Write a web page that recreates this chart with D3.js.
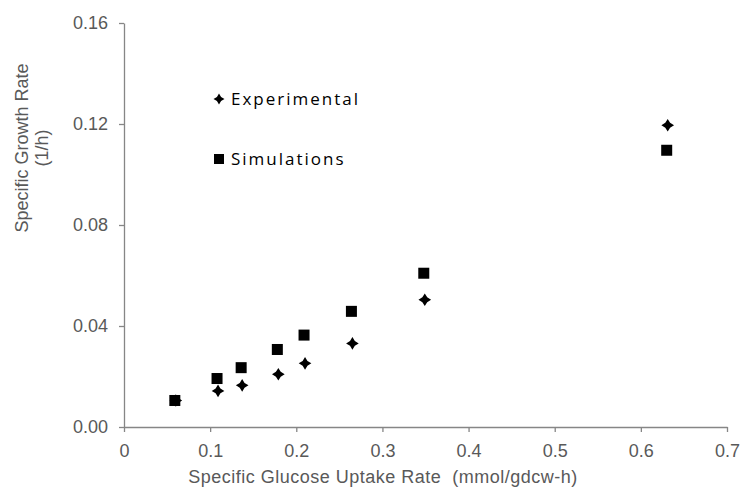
<!DOCTYPE html>
<html>
<head>
<meta charset="utf-8">
<script src="https://cdn.jsdelivr.net/npm/d3@7"></script>
<style>
  body { margin: 0; background: #fff; }
  text { font-family: "Liberation Sans", Arial, sans-serif; }
</style>
</head>
<body>
<div id="chart"></div>
<script>
// 資料
const uptake = [0.059, 0.108, 0.136, 0.178, 0.209, 0.264, 0.348, 0.630];
const experimental = [0.0105, 0.0143, 0.0165, 0.0209, 0.0252, 0.0331, 0.0504, 0.1195];
const simulations = [0.0105, 0.0192, 0.0235, 0.0307, 0.0364, 0.0458, 0.0609, 0.1096];
const xTicks = [0, 0.1, 0.2, 0.3, 0.4, 0.5, 0.6, 0.7];
const yTicks = [0, 0.04, 0.08, 0.12, 0.16];
const legendItems = ['Experimental', 'Simulations'];

const svg_width = 742, svg_height = 490;
const svg = d3.select('#chart').append('svg')
    .attr('width', svg_width).attr('height', svg_height);

const xScale = d3.scaleLinear().domain([0, 0.7]).range([124, 727]);
const yScale = d3.scaleLinear().domain([0, 0.16]).range([427, 23]);

// 四角星 (實驗值)
const star4 = {
    draw(ctx, size) {
        const r = Math.sqrt(size) / 2, k = r * 0.38;
        ctx.moveTo(0, -r);
        ctx.lineTo(k, -k); ctx.lineTo(r, 0); ctx.lineTo(k, k);
        ctx.lineTo(0, r); ctx.lineTo(-k, k); ctx.lineTo(-r, 0); ctx.lineTo(-k, -k);
        ctx.closePath();
    }
};

// X axis
const xAxis = d3.axisBottom(xScale).tickValues(xTicks)
    .tickFormat(d => d === 0 ? '0' : d3.format('.1f')(d))
    .tickSizeInner(5).tickSizeOuter(0).tickPadding(12);
const gx = svg.append('g').attr('transform', 'translate(0,427)').call(xAxis);

// Y axis
const yAxis = d3.axisLeft(yScale).tickValues(yTicks)
    .tickFormat(d3.format('.2f'))
    .tickSizeInner(5).tickSizeOuter(0).tickPadding(11);
const gy = svg.append('g').attr('transform', 'translate(124,0)').call(yAxis);

[gx, gy].forEach(g => {
    g.select('.domain').attr('stroke', '#868686').attr('stroke-width', 1.3);
    g.selectAll('.tick line').attr('stroke', '#868686').attr('stroke-width', 1.3);
    g.selectAll('.tick text').attr('fill', '#595959')
        .style('font-size', '18px').style('font-family', '"Liberation Sans", Arial, sans-serif');
});

// Axis titles
svg.append('text')
    .attr('x', 383).attr('y', 483)
    .attr('text-anchor', 'middle')
    .attr('fill', '#595959')
    .style('font-size', '18px')
    .style('white-space', 'pre')
    .style('letter-spacing', '0.5px')
    .text('Specific Glucose Uptake Rate  (mmol/gdcw-h)');

const yTitle = svg.append('text')
    .attr('transform', 'translate(28,148) rotate(-90)')
    .attr('text-anchor', 'middle')
    .attr('fill', '#595959')
    .style('font-size', '18px');
yTitle.append('tspan').attr('x', 0).attr('y', 0).text('Specific Growth Rate');
yTitle.append('tspan').attr('x', 0).attr('y', 20).text('(1/h)');

// Points
const simData = uptake.map((x, i) => ({ x, y: simulations[i] }));
const expData = uptake.map((x, i) => ({ x, y: experimental[i] }));

svg.append('g').selectAll('path')
    .data(expData).enter()
    .append('path')
    .attr('transform', d => `translate(${xScale(d.x) + 1},${yScale(d.y)})`)
    .attr('d', d3.symbol().type(star4).size(160))
    .attr('fill', '#000');

svg.append('g').selectAll('rect')
    .data(simData).enter()
    .append('rect')
    .attr('x', d => xScale(d.x) - 5.5)
    .attr('y', d => yScale(d.y) - 5.5)
    .attr('width', 11).attr('height', 11)
    .attr('fill', '#000');

// Legend
const legend = svg.append('g').selectAll('g')
    .data(legendItems).enter()
    .append('g')
    .attr('transform', (d, i) => `translate(219,${99 + i * 60})`);
legend.append('path')
    .attr('d', (d, i) => i === 0
        ? d3.symbol().type(star4).size(121)()
        : 'M-5,-5H5V5H-5Z')
    .attr('fill', '#000');
legend.append('text')
    .attr('x', 12).attr('y', 0)
    .attr('dy', '0.35em')
    .attr('fill', '#000')
    .style('font-family', '"Open Sans", sans-serif')
    .style('font-size', '17px')
    .style('letter-spacing', '2px')
    .text(d => d);
</script>
</body>
</html>
